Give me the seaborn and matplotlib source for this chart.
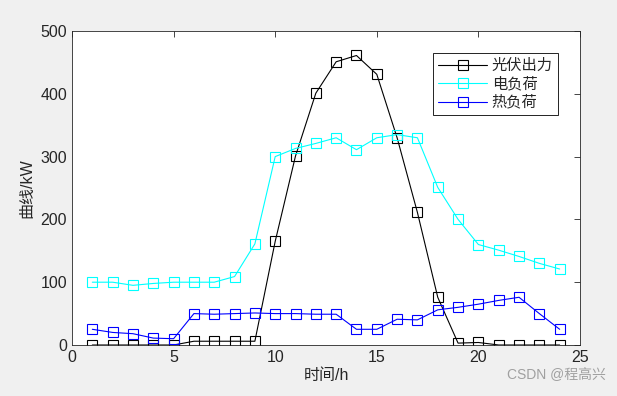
import numpy as np
import matplotlib
matplotlib.use("Agg")
import matplotlib.pyplot as plt
import pandas as pd
import seaborn as sns

# hourly data
hours = list(range(1, 25))
pv = [0, 0, 0, 0, 0, 6, 6, 6, 6, 165, 301, 401, 451, 461, 431, 330, 211, 76, 3, 4, 0, 0, 0, 0]
elec = [100, 100, 95, 98, 100, 100, 100, 109, 161, 300, 313, 321, 330, 311, 330, 335, 330, 251, 200, 160, 151, 141, 130, 121]
heat = [25, 20, 18, 11, 10, 50, 49, 50, 51, 50, 50, 49, 49, 25, 25, 41, 40, 56, 60, 65, 71, 76, 50, 25]
names = ["光伏出力", "电负荷", "热负荷"]
colors = ["black", "cyan", "blue"]

df = pd.DataFrame({"hour": hours, names[0]: pv, names[1]: elec, names[2]: heat})

sns.set_style("white")
plt.rcParams['font.family'] = ['Liberation Sans', 'Noto Sans CJK SC', 'DejaVu Sans']

fig = plt.figure(figsize=(6.17, 3.96), dpi=100, facecolor="#f0f0f0")
ax = fig.add_axes([0.1167, 0.1288, 0.8233, 0.7929])

for name, c in zip(names, colors):
    sns.lineplot(data=df, x="hour", y=name, ax=ax, color=c, marker="s", markersize=7.5,
                 markerfacecolor="none", markeredgecolor=c, markeredgewidth=0.8,
                 linewidth=0.8, label=name)

ax.set_xlim(0, 25)
ax.set_ylim(0, 500)
ax.set_xticks([0, 5, 10, 15, 20, 25])
ax.set_yticks([0, 100, 200, 300, 400, 500])
ax.tick_params(direction="in", top=True, right=True, labelsize=11.5, colors="#262626",
               length=4, width=0.6)
for s in ax.spines.values():
    s.set_color("#262626")
    s.set_linewidth(0.6)
ax.set_xlabel("时间/h", fontsize=11.5, color="#262626", labelpad=2)
ax.set_ylabel("曲线/kW", fontsize=11.5, color="#262626", labelpad=4)

leg = ax.legend(loc="upper right", bbox_to_anchor=(0.972, 0.953), fontsize=11,
                handlelength=3.2, fancybox=False, framealpha=1, edgecolor="black",
                borderpad=0.35, labelspacing=0.25, handletextpad=0.3)
leg.get_frame().set_linewidth(0.6)

fig.text(0.982, 0.035, "CSDN @程高兴", ha="right", va="bottom", fontsize=10, color="#a0a0a0")

fig.savefig("out.png", dpi=100, facecolor=fig.get_facecolor())
